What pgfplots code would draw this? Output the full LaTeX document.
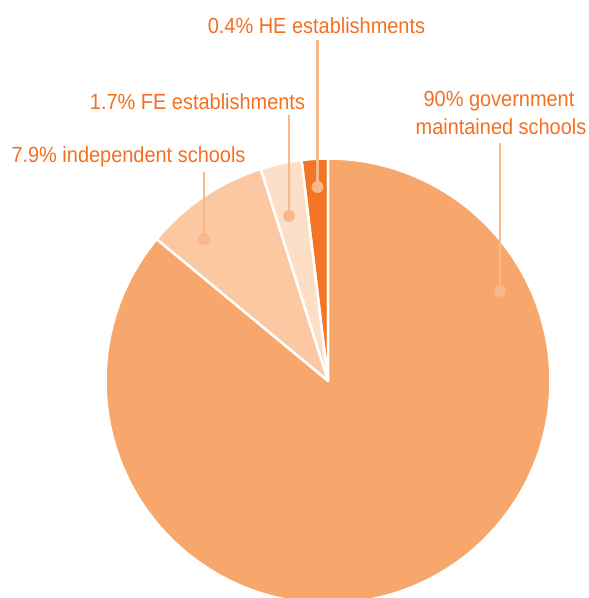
\documentclass[border=0pt]{standalone}
\usepackage{pgfplots}
\pgfplotsset{compat=1.18}
\usepackage{pgfplotstable}
\usepackage{fontspec}
\setmainfont{Liberation Sans}[FakeStretch=0.91]
\definecolor{govc}{HTML}{F7A66C}
\definecolor{indc}{HTML}{FBC8A1}
\definecolor{fec}{HTML}{FDDFC8}
\definecolor{hec}{HTML}{F37422}
\definecolor{txt}{HTML}{F37021}
\definecolor{lead}{HTML}{F9B88A}

% drawn shares of the pie (percent), counter-clockwise from the top
\pgfplotstableread{
slice share col
HE 1.9 hec
FE 3.0 fec
Ind 9.1 indc
Gov 86.0 govc
}\slices

\begin{document}
\begin{tikzpicture}
\useasboundingbox (0,0) rectangle (589bp,598bp);
\begin{axis}[at={(0,0)},anchor=south west,width=589bp,height=598bp,scale only axis,
  xmin=0,xmax=589,ymin=0,ymax=598,y dir=reverse,hide axis,clip=true]
\pgfplotsextra{
  \xdef\startang{90}
  \foreach \i in {0,...,3}{
    \pgfplotstablegetelem{\i}{share}\of\slices \let\sh\pgfplotsretval
    \pgfplotstablegetelem{\i}{col}\of\slices \let\cl\pgfplotsretval
    \pgfmathsetmacro\endang{\startang+3.6*\sh}
    \fill[fill=\cl, draw=white, line width=2.5bp, line join=round]
      (axis cs:328,381) -- ++(\startang:222.5bp)
      arc[start angle=\startang, end angle=\endang, radius=222.5bp] -- cycle;
    \xdef\startang{\endang}
  }
}
\addplot[lead, line width=2.2bp] coordinates {(317.5,40) (317.5,187)};
\addplot[lead, line width=2.2bp] coordinates {(289,115) (289,216)};
\addplot[lead, line width=2.2bp] coordinates {(204,172) (204,239)};
\addplot[lead, line width=2.2bp] coordinates {(500,143) (500,291)};
\addplot[only marks, mark=*, mark size=5.7bp, mark options={fill=lead, draw=lead}]
  coordinates {(317.5,187) (289,216) (204,239) (500,291)};
\node[txt, anchor=base, inner sep=0pt, font=\fontsize{22}{26}\selectfont] at (axis cs:316.5,34) {0.4\% HE establishments};
\node[txt, anchor=base, inner sep=0pt, font=\fontsize{22}{26}\selectfont] at (axis cs:197.5,109) {1.7\% FE establishments};
\node[txt, anchor=base, inner sep=0pt, font=\fontsize{22}{26}\selectfont] at (axis cs:128.5,162.3) {7.9\% independent schools};
\node[txt, anchor=base, inner sep=0pt, font=\fontsize{22}{26}\selectfont] at (axis cs:499,106.7) {90\% government};
\node[txt, anchor=base, inner sep=0pt, font=\fontsize{22}{26}\selectfont] at (axis cs:501,134.3) {maintained schools};
\end{axis}
\end{tikzpicture}
\end{document}
